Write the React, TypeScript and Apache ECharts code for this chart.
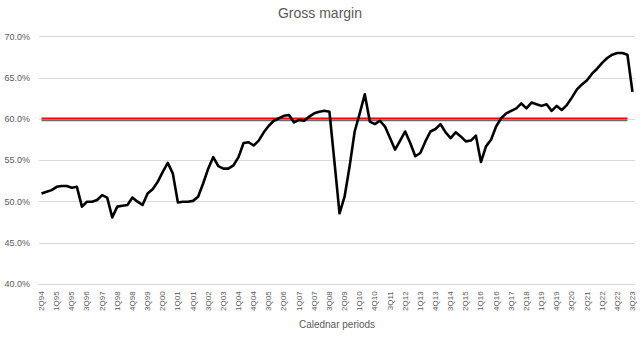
import React, { useEffect, useRef } from "react";
import * as echarts from "echarts";

const categories: string[] = [
  "2Q94", "3Q94", "4Q94",
  "1Q95", "2Q95", "3Q95", "4Q95",
  "1Q96", "2Q96", "3Q96", "4Q96",
  "1Q97", "2Q97", "3Q97", "4Q97",
  "1Q98", "2Q98", "3Q98", "4Q98",
  "1Q99", "2Q99", "3Q99", "4Q99",
  "1Q00", "2Q00", "3Q00", "4Q00",
  "1Q01", "2Q01", "3Q01", "4Q01",
  "1Q02", "2Q02", "3Q02", "4Q02",
  "1Q03", "2Q03", "3Q03", "4Q03",
  "1Q04", "2Q04", "3Q04", "4Q04",
  "1Q05", "2Q05", "3Q05", "4Q05",
  "1Q06", "2Q06", "3Q06", "4Q06",
  "1Q07", "2Q07", "3Q07", "4Q07",
  "1Q08", "2Q08", "3Q08", "4Q08",
  "1Q09", "2Q09", "3Q09", "4Q09",
  "1Q10", "2Q10", "3Q10", "4Q10",
  "1Q11", "2Q11", "3Q11", "4Q11",
  "1Q12", "2Q12", "3Q12", "4Q12",
  "1Q13", "2Q13", "3Q13", "4Q13",
  "1Q14", "2Q14", "3Q14", "4Q14",
  "1Q15", "2Q15", "3Q15", "4Q15",
  "1Q16", "2Q16", "3Q16", "4Q16",
  "1Q17", "2Q17", "3Q17", "4Q17",
  "1Q18", "2Q18", "3Q18", "4Q18",
  "1Q19", "2Q19", "3Q19", "4Q19",
  "1Q20", "2Q20", "3Q20", "4Q20",
  "1Q21", "2Q21", "3Q21", "4Q21",
  "1Q22", "2Q22", "3Q22", "4Q22",
  "1Q23", "2Q23", "3Q23",
];

const grossMargin: number[] = [
  51.0, 51.2, 51.4, 51.8, 51.9, 51.9, 51.7, 51.8, 49.4, 50.0,
  50.0, 50.2, 50.8, 50.5, 48.1, 49.4, 49.5, 49.6, 50.5, 50.0,
  49.6, 51.0, 51.5, 52.4, 53.6, 54.7, 53.4, 49.9, 50.0, 50.0,
  50.1, 50.6, 52.2, 54.0, 55.4, 54.3, 54.0, 54.0, 54.4, 55.4,
  57.1, 57.2, 56.8, 57.4, 58.4, 59.2, 59.8, 60.1, 60.4, 60.5,
  59.6, 59.9, 59.8, 60.3, 60.7, 60.9, 61.0, 60.9, 54.8, 48.6,
  50.6, 54.3, 58.5, 60.7, 63.0, 59.7, 59.4, 59.8, 59.1, 57.7,
  56.3, 57.4, 58.5, 57.1, 55.5, 55.9, 57.3, 58.5, 58.8, 59.4,
  58.4, 57.7, 58.4, 57.9, 57.3, 57.4, 58.0, 54.8, 56.7, 57.5,
  59.1, 60.1, 60.7, 61.0, 61.3, 61.9, 61.3, 62.0, 61.8, 61.6,
  61.8, 61.0, 61.6, 61.1, 61.7, 62.6, 63.6, 64.2, 64.7, 65.5,
  66.1, 66.8, 67.4, 67.8, 68.0, 68.0, 67.8, 63.3,
];

// Horizontal reference lines (start category, end category, level)
const refStart = "2Q94";
const refEnd = "2Q23";
const redLevel = 60.1;
const grayLevel = 59.85;

const yTicks = { min: 40, max: 70, interval: 5 };

const FONT = "Liberation Sans";

export default function App() {
  const ref = useRef<HTMLDivElement>(null);

  useEffect(() => {
    if (!ref.current) return;
    const chart = echarts.init(ref.current, undefined, { renderer: "svg" });
    chart.setOption({
      animation: false,
      backgroundColor: "#ffffff",
      title: {
        text: "Gross margin",
        left: "center",
        top: 6,
        padding: 0,
        textStyle: {
          fontFamily: FONT,
          fontSize: 14,
          fontWeight: "normal",
          color: "#595959",
        },
      },
      grid: { left: 39, right: 5, top: 36.5, bottom: 54.7, containLabel: false },
      xAxis: {
        type: "category",
        data: categories,
        boundaryGap: true,
        axisTick: { show: false },
        axisLine: { show: true, lineStyle: { color: "#d9d9d9", width: 1 } },
        axisLabel: {
          interval: 2,
          rotate: 90,
          fontSize: 8,
          fontFamily: FONT,
          color: "#595959",
          margin: 7,
        },
        splitLine: { show: false },
        name: "Calednar periods",
        nameLocation: "middle",
        nameGap: 35,
        nameTextStyle: { fontFamily: FONT, fontSize: 10, color: "#595959" },
      },
      yAxis: {
        type: "value",
        min: yTicks.min,
        max: yTicks.max,
        interval: yTicks.interval,
        axisLine: { show: false },
        axisTick: { show: false },
        axisLabel: {
          formatter: (v: number) => v.toFixed(1) + "%",
          fontSize: 9,
          fontFamily: FONT,
          color: "#595959",
          margin: 9,
        },
        splitLine: { lineStyle: { color: "#d9d9d9", width: 1 } },
      },
      series: [
        {
          type: "line",
          data: [
            [refStart, grayLevel],
            [refEnd, grayLevel],
          ],
          symbol: "none",
          lineStyle: { color: "#6b6b6b", width: 2 },
          z: 2,
          silent: true,
        },
        {
          type: "line",
          data: [
            [refStart, redLevel],
            [refEnd, redLevel],
          ],
          symbol: "none",
          lineStyle: { color: "#ff0000", width: 1.3 },
          z: 3,
          silent: true,
        },
        {
          type: "line",
          data: grossMargin,
          symbol: "none",
          lineStyle: { color: "#000000", width: 2.6, join: "round" },
          z: 4,
        },
      ],
    });
    return () => chart.dispose();
  }, []);

  return (
    <div
      ref={ref}
      style={{ position: "fixed", left: 0, top: 0, width: 640, height: 339 }}
    />
  );
}
